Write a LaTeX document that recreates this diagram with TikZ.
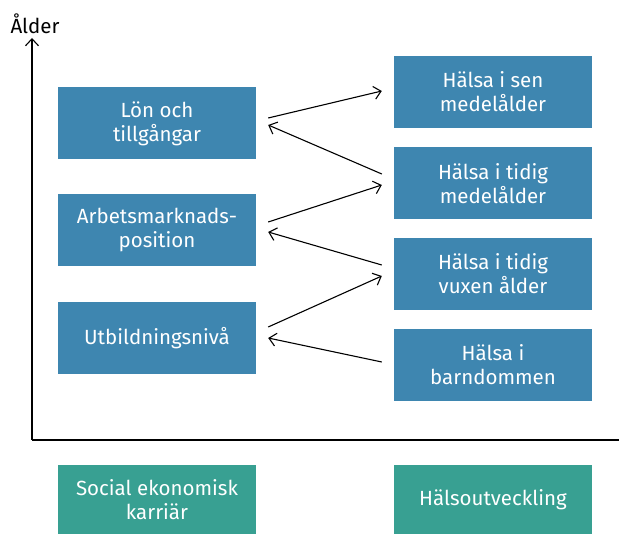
\documentclass[tikz,border=0pt]{standalone}
\usepackage{fontspec}
\setmainfont{Fira Sans}
\usetikzlibrary{arrows.meta}
\definecolor{boxblue}{RGB}{62,134,176}
\definecolor{boxteal}{RGB}{56,160,146}

\begin{document}
\begin{tikzpicture}[x=1pt, y=-1pt,
    box/.style={fill=boxblue, text=white, minimum width=198pt, minimum height=72pt,
      align=center, inner sep=0pt, font=\fontsize{20.5}{24}\selectfont},
    groupbox/.style={box, fill=boxteal, minimum height=69pt},
    link/.style={line width=1.1pt, -{Straight Barb[length=7pt, width=13pt]}}]
  \useasboundingbox (0, 0) rectangle (619, 534);

  \coordinate (origo) at (32, 440);
  \coordinate (ytop) at (32, 38);
  \coordinate (xend) at (619, 440);
  \draw [link] (origo) -- (ytop);
  \draw [line width=1.1pt] (origo) -- (xend);
  \node (alder) at (35, 24) [font=\fontsize{20.5}{24}\selectfont] {Ålder};

  \node [box] (lon) at (157, 123.5) {Lön och\\tillgångar};
  \node [box] (arb) at (157, 230) {Arbetsmarknads-\\position};
  \node [box] (utb) at (157, 338) {Utbildningsnivå};

  \node [box] (sen) at (493, 92) {Hälsa i sen\\medelålder};
  \node [box] (tidig) at (493, 183.5) {Hälsa i tidig\\medelålder};
  \node [box] (vuxen) at (493, 274) {Hälsa i tidig\\vuxen ålder};
  \node [box] (barn) at (493, 365) {Hälsa i\\barndommen};

  \node [groupbox] (social) at (157, 499.5) {Social ekonomisk\\karriär};
  \node [groupbox] (halsa) at (493, 499.5) {Hälsoutveckling};

  \draw [link] ([xshift=12pt, yshift=5.5pt]lon.east) -- ([xshift=-12pt, yshift=1pt]sen.west);
  \draw [link] ([xshift=-12pt, yshift=9.5pt]tidig.west) -- ([xshift=12pt, yshift=-1.5pt]lon.east);
  \draw [link] ([xshift=12pt, yshift=8pt]arb.east) -- ([xshift=-12pt, yshift=-1.5pt]tidig.west);
  \draw [link] ([xshift=-12pt, yshift=9pt]vuxen.west) -- ([xshift=12pt, yshift=-2pt]arb.east);
  \draw [link] ([xshift=12pt, yshift=11pt]utb.east) -- ([xshift=-12pt, yshift=-2pt]vuxen.west);
  \draw [link] ([xshift=-12pt, yshift=3pt]barn.west) -- ([xshift=12pt]utb.east);
\end{tikzpicture}
\end{document}
